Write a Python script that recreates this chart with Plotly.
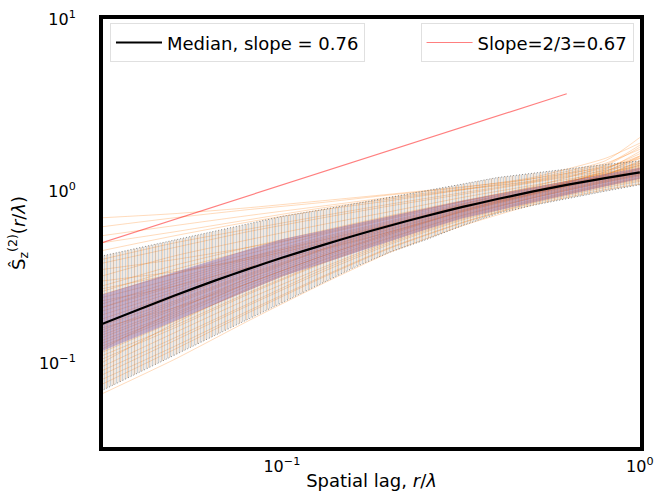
import plotly.graph_objects as go

# ---------------- data ----------------
x_pts = [0.03125, 0.04, 0.05, 0.065, 0.08, 0.1, 0.13, 0.16, 0.2, 0.25, 0.32, 0.4, 0.5, 0.63, 0.8, 1.0]
median = [0.168, 0.206, 0.247, 0.302, 0.351, 0.410, 0.486, 0.553, 0.630, 0.713, 0.810, 0.900, 0.993, 1.091, 1.191, 1.285]
bar_hi = [0.419, 0.469, 0.518, 0.584, 0.643, 0.713, 0.782, 0.845, 0.917, 0.996, 1.10, 1.20, 1.27, 1.35, 1.43, 1.50]
bar_lo = [0.069, 0.0886, 0.111, 0.145, 0.179, 0.225, 0.293, 0.362, 0.442, 0.518, 0.632, 0.742, 0.825, 0.911, 1.0, 1.09]
band_hi = [0.25, 0.292, 0.338, 0.399, 0.457, 0.525, 0.589, 0.647, 0.715, 0.791, 0.883, 0.962, 1.049, 1.147, 1.253, 1.366]
band_lo = [0.117, 0.145, 0.176, 0.221, 0.264, 0.319, 0.380, 0.439, 0.510, 0.594, 0.697, 0.774, 0.859, 0.956, 1.069, 1.18]

x_ref = [0.03125, 0.625]
y_ref = [0.5, 3.68]

orange_x = [0.03125, 0.05, 0.08, 0.13, 0.2, 0.32, 0.5, 0.8, 1.0]
orange_curves = [
    [0.70, 0.74, 0.80, 0.88, 0.96, 1.06, 1.18, 1.50, 2.05],
    [0.62, 0.70, 0.78, 0.86, 0.95, 1.05, 1.20, 1.55, 1.90],
    [0.55, 0.63, 0.72, 0.82, 0.92, 1.03, 1.15, 1.45, 1.75],
    [0.50, 0.58, 0.68, 0.80, 0.90, 1.02, 1.14, 1.42, 1.85],
    [0.45, 0.55, 0.66, 0.78, 0.88, 1.02, 1.18, 1.38, 1.55],
    [0.40, 0.50, 0.60, 0.72, 0.84, 0.98, 1.13, 1.36, 1.60],
    [0.38, 0.47, 0.58, 0.70, 0.82, 0.96, 1.12, 1.32, 1.45],
    [0.35, 0.40, 0.47, 0.57, 0.70, 0.87, 1.06, 1.40, 1.80],
    [0.32, 0.42, 0.52, 0.64, 0.76, 0.92, 1.08, 1.28, 1.40],
    [0.30, 0.34, 0.40, 0.50, 0.64, 0.82, 1.00, 1.30, 1.60],
    [0.28, 0.37, 0.47, 0.59, 0.72, 0.88, 1.05, 1.25, 1.36],
    [0.27, 0.33, 0.41, 0.52, 0.64, 0.80, 0.97, 1.33, 1.70],
    [0.26, 0.35, 0.45, 0.58, 0.71, 0.87, 1.04, 1.26, 1.38],
    [0.25, 0.33, 0.43, 0.56, 0.69, 0.85, 1.03, 1.22, 1.33],
    [0.24, 0.31, 0.41, 0.54, 0.67, 0.84, 1.02, 1.23, 1.35],
    [0.23, 0.28, 0.36, 0.46, 0.58, 0.76, 0.96, 1.24, 1.50],
    [0.22, 0.30, 0.40, 0.53, 0.66, 0.83, 1.01, 1.21, 1.31],
    [0.21, 0.28, 0.38, 0.51, 0.64, 0.82, 1.00, 1.28, 1.55],
    [0.21, 0.29, 0.39, 0.52, 0.65, 0.82, 1.00, 1.20, 1.30],
    [0.20, 0.27, 0.37, 0.50, 0.63, 0.81, 0.99, 1.19, 1.29],
    [0.19, 0.26, 0.36, 0.49, 0.62, 0.80, 0.98, 1.25, 1.48],
    [0.18, 0.25, 0.35, 0.48, 0.61, 0.80, 0.98, 1.18, 1.28],
    [0.17, 0.24, 0.34, 0.47, 0.60, 0.78, 0.96, 1.22, 1.42],
    [0.165, 0.23, 0.33, 0.46, 0.60, 0.79, 0.99, 1.30, 1.58],
    [0.16, 0.21, 0.29, 0.42, 0.56, 0.77, 0.99, 1.35, 1.65],
    [0.155, 0.225, 0.325, 0.455, 0.59, 0.78, 0.965, 1.17, 1.27],
    [0.15, 0.22, 0.32, 0.45, 0.58, 0.77, 0.96, 1.20, 1.36],
    [0.145, 0.21, 0.31, 0.44, 0.58, 0.77, 0.97, 1.24, 1.45],
    [0.14, 0.205, 0.30, 0.43, 0.57, 0.76, 0.95, 1.16, 1.26],
    [0.135, 0.195, 0.29, 0.42, 0.56, 0.75, 0.94, 1.15, 1.25],
    [0.13, 0.19, 0.29, 0.42, 0.57, 0.76, 0.95, 1.19, 1.34],
    [0.125, 0.185, 0.28, 0.41, 0.55, 0.74, 0.93, 1.14, 1.24],
    [0.12, 0.20, 0.31, 0.46, 0.62, 0.84, 1.04, 1.26, 1.42],
    [0.115, 0.175, 0.265, 0.395, 0.535, 0.725, 0.915, 1.13, 1.23],
    [0.11, 0.165, 0.255, 0.385, 0.53, 0.72, 0.91, 1.12, 1.22],
    [0.105, 0.16, 0.25, 0.38, 0.52, 0.71, 0.91, 1.13, 1.25],
    [0.10, 0.17, 0.27, 0.40, 0.54, 0.73, 0.92, 1.15, 1.30],
    [0.095, 0.15, 0.235, 0.36, 0.51, 0.70, 0.89, 1.10, 1.20],
    [0.09, 0.14, 0.22, 0.35, 0.50, 0.69, 0.88, 1.09, 1.19],
    [0.085, 0.135, 0.215, 0.34, 0.49, 0.68, 0.87, 1.08, 1.18],
    [0.08, 0.125, 0.20, 0.32, 0.47, 0.66, 0.86, 1.07, 1.16],
    [0.075, 0.12, 0.195, 0.315, 0.465, 0.655, 0.85, 1.05, 1.14],
    [0.066, 0.105, 0.175, 0.29, 0.44, 0.63, 0.83, 1.02, 1.10],
]

x_tickvals = [0.1, 1]
x_ticktext = ["10<sup>−1</sup>", "10<sup>0</sup>"]
y_tickvals = [0.1, 1, 10]
y_ticktext = ["10<sup>−1</sup>", "10<sup>0</sup>", "10<sup>1</sup>"]

# ---------------- figure ----------------
fig = go.Figure()

# light orange tint under the individual curves
fig.add_trace(go.Scatter(x=x_pts, y=bar_lo, mode="lines", line=dict(width=0), showlegend=False, hoverinfo="skip"))
fig.add_trace(go.Scatter(x=x_pts, y=bar_hi, mode="lines", line=dict(width=0), fill="tonexty",
                         fillcolor="rgba(255,127,14,0.12)", showlegend=False, hoverinfo="skip"))

# individual curves (orange, translucent)
ox, oy = [], []
for c in orange_curves:
    ox += orange_x + [None]
    oy += c + [None]
fig.add_trace(go.Scatter(x=ox, y=oy, mode="lines",
                         line=dict(color="rgba(255,127,14,0.28)", width=1, shape="spline", smoothing=0.6),
                         showlegend=False, hoverinfo="skip"))

# blue error bars (vertical stripes between min and max)
cap_line = dict(color="rgba(70,70,70,0.6)", width=1, dash="1px,2px")
fig.add_trace(go.Scatter(x=x_pts, y=bar_lo, mode="lines", line=cap_line, showlegend=False, hoverinfo="skip"))
fig.add_trace(go.Scatter(x=x_pts, y=bar_hi, mode="lines", line=cap_line, fill="tonexty",
                         fillcolor="rgba(31,119,180,0.06)",
                         fillpattern=dict(shape="|", fgcolor="rgba(31,119,180,0.45)", bgcolor="rgba(31,119,180,0.06)",
                                          size=3, solidity=0.3),
                         showlegend=False, hoverinfo="skip"))
# orange vertical bars interleaved
fig.add_trace(go.Scatter(x=x_pts, y=bar_lo, mode="lines", line=dict(width=0), showlegend=False, hoverinfo="skip"))
fig.add_trace(go.Scatter(x=x_pts, y=bar_hi, mode="lines", line=dict(width=0), fill="tonexty",
                         fillcolor="rgba(255,127,14,0.0)",
                         fillpattern=dict(shape="|", fgcolor="rgba(255,127,14,0.40)", bgcolor="rgba(255,127,14,0.0)",
                                          size=7, solidity=0.14),
                         showlegend=False, hoverinfo="skip"))

# purple inter-quantile band
fig.add_trace(go.Scatter(x=x_pts, y=band_lo, mode="lines", line=dict(width=0), showlegend=False, hoverinfo="skip"))
fig.add_trace(go.Scatter(x=x_pts, y=band_hi, mode="lines", line=dict(width=0), fill="tonexty",
                         fillcolor="rgba(140,90,160,0.40)", showlegend=False, hoverinfo="skip"))

# median
fig.add_trace(go.Scatter(x=x_pts, y=median, mode="lines",
                         line=dict(color="black", width=2.2, shape="spline", smoothing=0.5),
                         name="Median, slope = 0.76", legend="legend"))
# reference slope
fig.add_trace(go.Scatter(x=x_ref, y=y_ref, mode="lines", line=dict(color="rgba(255,0,0,0.5)", width=1.2),
                         name="Slope=2/3=0.67", legend="legend2"))

axis_common = dict(type="log", showgrid=False, zeroline=False, showline=True, mirror=True,
                   linewidth=4, linecolor="black", ticks="", tickfont=dict(size=16), automargin=False)

legend_common = dict(yanchor="top", y=0.99, bgcolor="rgba(255,255,255,0.8)",
                     bordercolor="rgba(0,0,0,0.12)", borderwidth=1, font=dict(size=18), itemwidth=46)

fig.update_layout(
    width=659, height=494,
    margin=dict(l=103, r=18.5, t=18.5, b=47.3),
    plot_bgcolor="white", paper_bgcolor="white",
    font=dict(family="DejaVu Sans", size=16, color="black"),
    xaxis=dict(**axis_common, range=[-1.4996, 0.0005], tickvals=x_tickvals, ticktext=x_ticktext,
               ticklabelstandoff=2,
               title=dict(text="Spatial lag, <i>r</i>/<i>λ</i>", standoff=0, font=dict(size=18))),
    yaxis=dict(**axis_common, range=[-1.4867, 1.0005], tickvals=y_tickvals, ticktext=y_ticktext,
               ticklabelstandoff=20,
               title=dict(text="Ŝ<sub>z</sub><sup>(2)</sup>(<i>r</i>/<i>λ</i>)", standoff=10, font=dict(size=18))),
    legend=dict(**legend_common, x=0.013, xanchor="left"),
    legend2=dict(**legend_common, x=0.988, xanchor="right"),
)

fig.write_html("out.html")
